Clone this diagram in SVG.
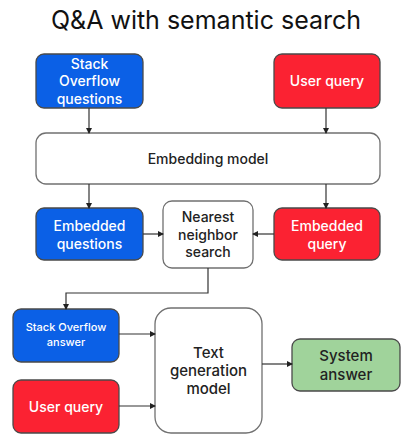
<svg xmlns="http://www.w3.org/2000/svg" width="408" height="441" viewBox="0 0 408 441">
<defs>
<marker id="ah" markerWidth="6" markerHeight="6" refX="5" refY="3" orient="auto" markerUnits="userSpaceOnUse">
<path d="M0,0 L6,3 L0,6 z" fill="#222"/>
</marker>
<style>
text{font-family:Inter,"Open Sans","Liberation Sans",sans-serif;text-anchor:middle;dominant-baseline:central;font-weight:500}
.box{stroke:#4a4a4a;stroke-width:1.3}
.blue{fill:#0b60e6}
.red{fill:#fb2232}
.white{fill:#fff;stroke:#707070}
.green{fill:#a0d39b}
.wt{fill:#fff;font-size:14px}
.bt{fill:#222;font-size:14px}
.conn{fill:none;stroke:#333;stroke-width:1.2;marker-end:url(#ah)}
</style>
</defs>
<rect width="408" height="441" fill="#fff"/>
<text x="206" y="20" style="font-size:25px;fill:#111;font-weight:400">Q&amp;A with semantic search</text>

<g id="so-questions"><rect class="box blue" x="36" y="54" width="107" height="54" rx="8"/>
<text class="wt" x="89.5" y="63">Stack</text><text class="wt" x="89.5" y="80">Overflow</text><text class="wt" x="89.5" y="98">questions</text></g>

<g id="user-query-top"><rect class="box red" x="274" y="54" width="106" height="54" rx="8"/>
<text class="wt" x="327" y="80">User query</text></g>

<g id="embedding-model"><rect class="box white" x="36" y="133" width="344" height="51" rx="10"/>
<text class="bt" x="208" y="158">Embedding model</text></g>

<g id="embedded-questions"><rect class="box blue" x="36" y="208" width="107" height="52" rx="8"/>
<text class="wt" x="89.5" y="225">Embedded</text><text class="wt" x="89.5" y="243">questions</text></g>

<g id="nn-search"><rect class="box white" x="163" y="201" width="90" height="67" rx="9"/>
<text class="bt" x="208" y="216">Nearest</text><text class="bt" x="208" y="234">neighbor</text><text class="bt" x="208" y="251">search</text></g>

<g id="embedded-query"><rect class="box red" x="274" y="208" width="106" height="52" rx="8"/>
<text class="wt" x="327" y="225">Embedded</text><text class="wt" x="327" y="243">query</text></g>

<g id="so-answer"><rect class="box blue" x="13" y="309" width="106" height="53" rx="8"/>
<text class="wt" x="66" y="327" style="font-size:11px">Stack Overflow</text><text class="wt" x="66" y="342" style="font-size:11px">answer</text></g>

<g id="user-query-bottom"><rect class="box red" x="13" y="380" width="106" height="53" rx="8"/>
<text class="wt" x="66" y="406">User query</text></g>

<g id="text-gen"><rect class="box white" x="155" y="308" width="107" height="125" rx="16"/>
<text class="bt" x="208.5" y="352" style="font-size:15px">Text</text><text class="bt" x="208.5" y="370" style="font-size:15px">generation</text><text class="bt" x="208.5" y="388" style="font-size:15px">model</text></g>

<g id="system-answer"><rect class="box green" x="292" y="339" width="108" height="52" rx="8"/>
<text class="bt" x="346" y="355" style="font-size:15px">System</text><text class="bt" x="346" y="374" style="font-size:15px">answer</text></g>

<g id="connectors">
<path class="conn" d="M89,108 V133"/>
<path class="conn" d="M326,108 V133"/>
<path class="conn" d="M89,184 V208"/>
<path class="conn" d="M326,184 V208"/>
<path class="conn" d="M143,234 H163"/>
<path class="conn" d="M274,234 H253"/>
<path class="conn" d="M208,268 V293 H66 V309"/>
<path class="conn" d="M119,334 H155"/>
<path class="conn" d="M119,406 H155"/>
<path class="conn" d="M262,364 H292"/>
</g>
</svg>
